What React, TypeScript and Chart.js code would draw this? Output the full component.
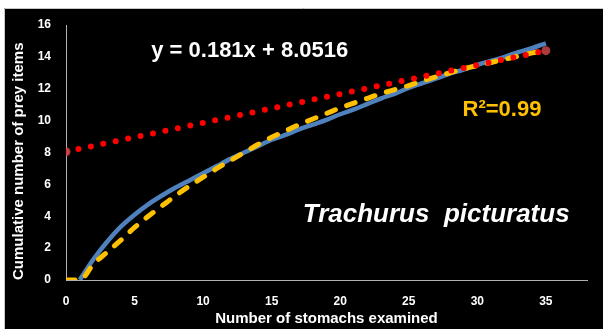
import React, { useEffect, useRef } from "react";
import { Chart, registerables } from "chart.js";

Chart.register(...registerables);

// Number of stomachs examined (x)
const stomachs = [
  0, 1, 2, 3, 4, 5, 6, 7, 8, 9, 10, 11, 12, 13, 14, 15, 16, 17, 18, 19, 20,
  21, 22, 23, 24, 25, 26, 27, 28, 29, 30, 31, 32, 33, 34, 35,
];
// Observed cumulative prey items (blue solid)
const observed = [
  null, 0, 1.3, 2.4, 3.35, 4.1, 4.75, 5.3, 5.8, 6.25, 6.7, 7.15, 7.6, 8.0, 8.4,
  8.8, 9.1, 9.45, 9.75, 10.05, 10.4, 10.7, 11.05, 11.4, 11.7, 12.05, 12.35,
  12.65, 12.95, 13.2, 13.5, 13.75, 14.0, 14.3, 14.55, 14.85,
];
// Fitted curve (gold dashed)
const fitted = [
  0, 0, 1.0, 1.75, 2.5, 3.3, 4.0, 4.65, 5.3, 5.9, 6.45, 7.0, 7.5, 8.0, 8.5,
  8.95, 9.35, 9.75, 10.1, 10.45, 10.8, 11.1, 11.4, 11.7, 11.95, 12.2, 12.5,
  12.75, 13.0, 13.25, 13.45, 13.65, 13.85, 14.05, 14.25, 14.4,
];
// Linear trendline y = 0.181x + 8.0516 (red dotted), endpoints
const trendX = [0, 35];
const trendY = [8.05, 14.39];

const xTicks = [0, 5, 10, 15, 20, 25, 30, 35];
const yTicks = [0, 2, 4, 6, 8, 10, 12, 14, 16];

const equationText = "y = 0.181x + 8.0516";
const r2Text = "R\u00B2=0.99";
const speciesText = "Trachurus  picturatus";
const xTitle = "Number of stomachs examined";
const yTitle = "Cumulative number of prey items";

const FONT = "'Liberation Sans', Arial, sans-serif";

export default function App() {
  const ref = useRef<HTMLCanvasElement | null>(null);

  useEffect(() => {
    if (!ref.current) return;

    const bgPlugin = {
      id: "bg",
      beforeDraw(chart: any) {
        const { ctx, width, height } = chart;
        ctx.save();
        ctx.fillStyle = "#ffffff";
        ctx.fillRect(0, 0, width, height);
        ctx.fillStyle = "#000000";
        ctx.fillRect(4, 8, width - 4, height - 8);
        ctx.strokeStyle = "#c8c8c8";
        ctx.lineWidth = 1;
        ctx.beginPath();
        ctx.moveTo(4.5, height);
        ctx.lineTo(4.5, 8.5);
        ctx.lineTo(width, 8.5);
        ctx.stroke();
        ctx.restore();
      },
    };

    const textPlugin = {
      id: "labels",
      afterDatasetsDraw(chart: any) {
        const { ctx } = chart;
        const xs = chart.scales.x;
        const ys = chart.scales.y;
        ctx.save();
        ctx.textAlign = "center";
        ctx.textBaseline = "middle";
        ctx.fillStyle = "#ffffff";
        ctx.font = `bold 22px ${FONT}`;
        ctx.fillText(equationText, xs.getPixelForValue(13.4), ys.getPixelForValue(14.35));
        ctx.fillStyle = "#FFC000";
        ctx.font = `bold 22px ${FONT}`;
        ctx.fillText(r2Text, xs.getPixelForValue(31.8), ys.getPixelForValue(10.7));
        ctx.fillStyle = "#ffffff";
        ctx.font = `italic bold 26px ${FONT}`;
        ctx.fillText(speciesText, xs.getPixelForValue(27.0), ys.getPixelForValue(4.1));
        ctx.restore();
      },
    };

    const toPts = (xsArr: number[], ysArr: (number | null)[]) =>
      xsArr.map((x, i) => ({ x, y: ysArr[i] }));

    const chart = new Chart(ref.current, {
      type: "scatter",
      data: {
        datasets: [
          {
            label: "Trend",
            data: toPts(trendX, trendY),
            showLine: true,
            borderColor: "#FF0000",
            borderWidth: 6,
            borderDash: [0, 12.7],
            borderCapStyle: "round",
            pointRadius: 4.5,
            pointBackgroundColor: "rgba(215,75,75,0.8)",
            pointBorderWidth: 0,
            order: 0,
          },
          {
            label: "Fitted",
            data: toPts(stomachs, fitted),
            showLine: true,
            borderColor: "#FFC000",
            borderWidth: 5,
            borderDash: [9, 12],
            borderCapStyle: "round",
            cubicInterpolationMode: "monotone",
            pointRadius: 0,
            order: 1,
          },
          {
            label: "Observed",
            data: toPts(stomachs, observed),
            showLine: true,
            borderColor: "#4F81BD",
            borderWidth: 4.5,
            cubicInterpolationMode: "monotone",
            pointRadius: 0,
            order: 2,
          },
        ],
      },
      options: {
        animation: false,
        responsive: false,
        maintainAspectRatio: false,
        layout: { padding: { top: 25, right: 16, left: 0, bottom: 0 } },
        plugins: {
          legend: { display: false },
          tooltip: { enabled: false },
        },
        scales: {
          x: {
            type: "linear",
            min: 0,
            max: 38,
            afterBuildTicks: (scale: any) => {
              scale.ticks = xTicks.map((v) => ({ value: v }));
            },
            afterFit: (scale: any) => {
              scale.height = 49;
            },
            grid: { display: false, drawTicks: false },
            border: { display: true, color: "#b0b0b0", width: 1 },
            ticks: {
              color: "#ffffff",
              padding: 14,
              font: { family: FONT, size: 12, weight: "bold" },
              maxRotation: 0,
            },
            title: {
              display: true,
              text: xTitle,
              color: "#ffffff",
              font: { family: FONT, size: 15, weight: "bold" },
              padding: { top: 0, bottom: 1 },
            },
          },
          y: {
            type: "linear",
            min: 0,
            max: 16,
            afterBuildTicks: (scale: any) => {
              scale.ticks = yTicks.map((v) => ({ value: v }));
            },
            afterFit: (scale: any) => {
              scale.width = 66;
            },
            grid: { display: false, drawTicks: false },
            border: { display: true, color: "#b0b0b0", width: 1 },
            ticks: {
              color: "#ffffff",
              padding: 15,
              font: { family: FONT, size: 12, weight: "bold" },
            },
            title: {
              display: true,
              text: yTitle,
              align: "start",
              color: "#ffffff",
              font: { family: FONT, size: 15, weight: "bold" },
              padding: { top: 10, bottom: 0 },
            },
          },
        },
      },
      plugins: [bgPlugin, textPlugin],
    } as any);

    return () => chart.destroy();
  }, []);

  return (
    <div style={{ position: "fixed", left: 0, top: 0, width: 603, height: 329 }}>
      <canvas ref={ref} width={603} height={329} style={{ display: "block", width: 603, height: 329 }} />
    </div>
  );
}
